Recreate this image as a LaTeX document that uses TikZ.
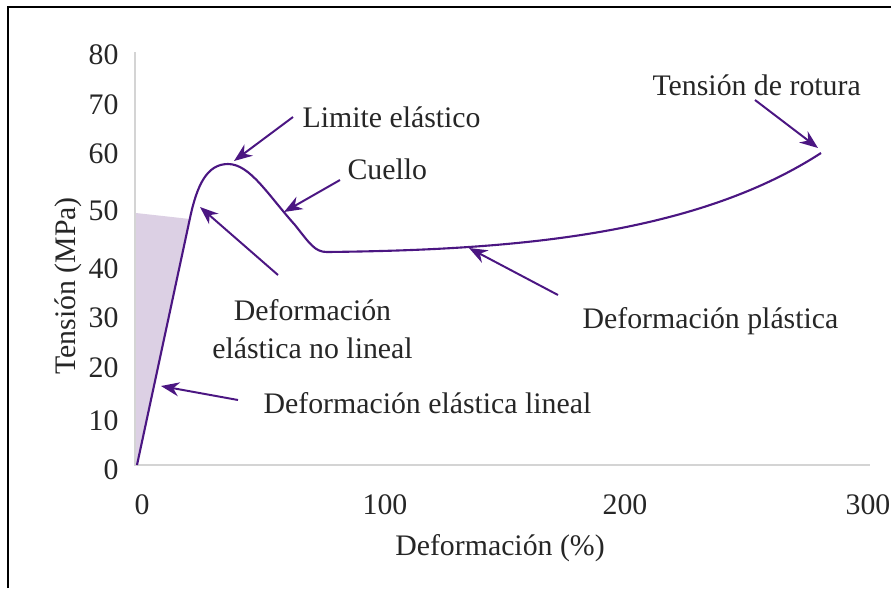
\documentclass[tikz,border=0pt]{standalone}
\usepackage{fontspec}
\setmainfont{Liberation Serif}
\usepackage{xcolor}
\usepackage{tikz}
\usetikzlibrary{arrows.meta}

\definecolor{curvepurple}{RGB}{75,22,130}
\definecolor{elasticfill}{RGB}{220,208,228}
\definecolor{axisgray}{RGB}{212,212,212}
\definecolor{labelgray}{RGB}{38,38,38}

\tikzset{
  lbl/.style={text=labelgray, inner sep=0pt, font=\fontsize{10.6}{13.5}\selectfont},
  pointer/.style={-{Stealth[length=6.5pt,width=5pt]}, line width=0.7pt, curvepurple},
}

\begin{document}
\begin{tikzpicture}[x=0.0125cm, y=-0.0125cm]
            \useasboundingbox (0,0) rectangle (891,588);
            \draw[line width=0.8pt] (7.8,588) -- (7.8,6.8) -- (891,6.8);

            % elastic region and axes
            \fill[elasticfill] (136,213) -- (190,219) -- (137,465) -- (136,465) -- cycle;
            \draw[axisgray, line width=0.7pt] (135,52) -- (135,465) -- (870,465);

            \node[lbl, anchor=east] (y80) at (119,55) {80};
            \node[lbl, anchor=east] (y70) at (119,105) {70};
            \node[lbl, anchor=east] (y60) at (119,154) {60};
            \node[lbl, anchor=east] (y50) at (119,211) {50};
            \node[lbl, anchor=east] (y40) at (119,269) {40};
            \node[lbl, anchor=east] (y30) at (119,318) {30};
            \node[lbl, anchor=east] (y20) at (119,368) {20};
            \node[lbl, anchor=east] (y10) at (119,421) {10};
            \node[lbl, anchor=east] (y0) at (119,470) {0};

            \node[lbl] (x0) at (142,505) {0};
            \node[lbl] (x100) at (385,505) {100};
            \node[lbl] (x200) at (625,505) {200};
            \node[lbl] (x300) at (868,505) {300};

            \node[lbl, anchor=base] (xtitle) at (500,555) {Deformación (\%)};
            \node[lbl, anchor=base, rotate=90] (ytitle) at (75,286) {Tensión (MPa)};

            % stress-strain curve
            \draw[curvepurple, line width=0.75pt, line join=round] (137,465) -- (190,218)
                .. controls (197,185) and (207,164) .. (228,164)
                .. controls (250,164) and (268,195) .. (295,225)
                .. controls (310,244) and (315,252) .. (327,252)
                .. controls (500,250) and (690,238) .. (821,153);

            % labels
            \node[lbl, anchor=base west] (limite) at (302,127) {Limite elástico};
            \node[lbl, anchor=base west] (cuello) at (347,179) {Cuello};
            \node[lbl, anchor=base west] (rotura) at (652,95) {Tensión de rotura};
            \node[lbl, anchor=base, align=center] (nolineal) at (312.5,358) {Deformación\\elástica no lineal};
            \node[lbl, anchor=base west] (lineal) at (263,413) {Deformación elástica lineal};
            \node[lbl, anchor=base west] (plastica) at (582,328) {Deformación plástica};

            \coordinate (limtail) at (293,117);
            \coordinate (limtip) at (234,161);
            \coordinate (cuetail) at (340,180);
            \coordinate (cuetip) at (284,212);
            \coordinate (nltail) at (278,275);
            \coordinate (nltip) at (200,207);
            \coordinate (lintail) at (238,400);
            \coordinate (lintip) at (161,386);
            \coordinate (pltail) at (558,295);
            \coordinate (pltip) at (469,248);
            \coordinate (rottail) at (755,100);
            \coordinate (rottip) at (818,148);

            \draw[pointer] (limtail) -- (limtip);
            \draw[pointer] (cuetail) -- (cuetip);
            \draw[pointer] (nltail) -- (nltip);
            \draw[pointer] (lintail) -- (lintip);
            \draw[pointer] (pltail) -- (pltip);
            \draw[pointer] (rottail) -- (rottip);
        \end{tikzpicture}
\end{document}
